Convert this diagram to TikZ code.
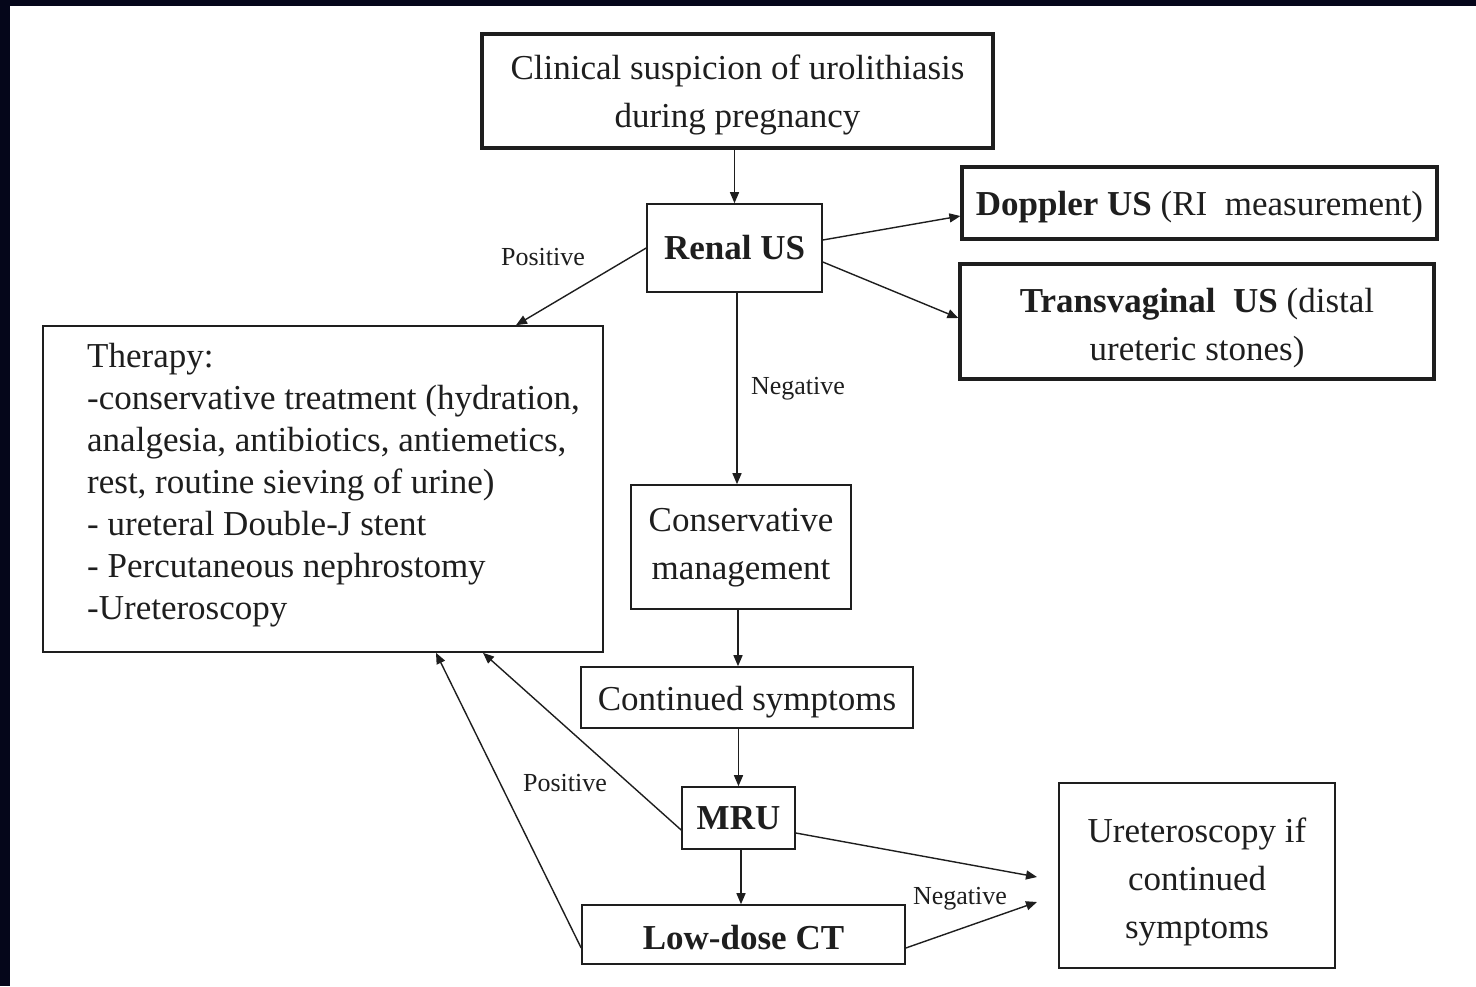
\documentclass[tikz,border=0pt]{standalone}
\usepackage{fontspec}
\setmainfont{Liberation Serif}
\usetikzlibrary{arrows.meta}
\definecolor{frame}{HTML}{05061A}
\definecolor{ink}{HTML}{1E1E1E}
\newcommand\lowr[2]{\raisebox{-#1}[\height][\depth]{#2}}
\begin{document}
\begin{tikzpicture}[x=1pt,y=-1pt,
  box/.style={draw=ink, line width=1.6pt, inner sep=0pt, align=center, text=ink, font=\fontsize{35}{48}\selectfont},
  thickbox/.style={box, line width=3.2pt},
  bfbox/.style={box, font=\fontsize{35}{48}\selectfont\bfseries},
  lbl/.style={text=ink, inner sep=0pt, font=\fontsize{26}{30}\selectfont},
  arr/.style={draw=ink, line width=1.4pt, -{Triangle[length=11pt,width=9pt]}},
]
\useasboundingbox (0,0) rectangle (1476,986);
\fill[frame] (0,0) rectangle (1476,986);
\fill[white] (10,6) rectangle (1476,986);

\node[thickbox, minimum width=511pt, minimum height=114pt] (top) at (737.5,91) {\lowr{4pt}{Clinical suspicion of urolithiasis}\\\lowr{4pt}{during pregnancy}};
\node[bfbox, minimum width=175pt, minimum height=88pt] (renal) at (734.5,248) {Renal US};
\node[thickbox, minimum width=475pt, minimum height=72pt] (doppler) at (1199.5,203) {\lowr{4pt}{\textbf{Doppler US} (RI\ \ measurement)}};
\node[thickbox, minimum width=474pt, minimum height=115pt] (trans) at (1197,321.5) {\lowr{7pt}{\textbf{Transvaginal\ \ US} (distal}\\\lowr{7pt}{ureteric stones)}};
\node[box, minimum width=560pt, minimum height=326pt] (therapy) at (323,489) {};
\node[anchor=north west, align=left, text=ink, inner sep=0pt, font=\fontsize{35}{42}\selectfont] (thertext) at (87,343) {Therapy:\\-conservative treatment (hydration,\\analgesia, antibiotics, antiemetics,\\rest, routine sieving of urine)\\- ureteral Double-J stent\\- Percutaneous nephrostomy\\-Ureteroscopy};
\node[box, minimum width=220pt, minimum height=124pt] (cons) at (741,547) {\lowr{1pt}{Conservative}\\\lowr{1pt}{management}};
\node[box, minimum width=332pt, minimum height=61pt] (cont) at (747,697.5) {\lowr{5pt}{Continued symptoms}};
\node[bfbox, minimum width=113pt, minimum height=62pt] (mru) at (738.5,818) {MRU};
\node[bfbox, minimum width=323pt, minimum height=59pt] (low) at (743.5,934.5) {\lowr{3pt}{Low-dose CT}};
\node[box, minimum width=276pt, minimum height=185pt] (uret) at (1197,875.5) {\lowr{6pt}{Ureteroscopy if}\\\lowr{6pt}{continued}\\\lowr{6pt}{symptoms}};

\coordinate (e1) at (1037,877);
\coordinate (e2) at (1037,902);

\node[lbl] (pos1) at (543,257) {Positive};
\node[lbl] (neg1) at (798,389) {Negative};
\node[lbl] (pos2) at (565,783) {Positive};
\node[lbl] (neg2) at (960,899) {Negative};

\draw[arr] (renal.north |- top.south) -- (renal.north);
\draw[arr] ([yshift=8pt]renal.east) -- ([yshift=-13pt]doppler.west);
\draw[arr] ([yshift=-14pt]renal.east) -- ([yshift=3.5pt]trans.west);
\draw[arr] (renal.west) -- ([xshift=193pt]therapy.north);
\draw[arr] ([xshift=2.5pt]renal.south) -- ([xshift=2.5pt]renal.south |- cons.north);
\draw[arr] ([xshift=-3pt]cons.south) -- ([xshift=-3pt]cons.south |- cont.north);
\draw[arr] (mru.north |- cont.south) -- (mru.north);
\draw[arr] ([yshift=-12pt]mru.west) -- ([xshift=160pt]therapy.south);
\draw[arr] ([xshift=2.5pt]mru.south) -- ([xshift=2.5pt]mru.south |- low.north);
\draw[arr] ([yshift=-13.5pt]low.west) -- ([xshift=113pt]therapy.south);
\draw[arr] ([yshift=-15pt]mru.east) -- (e1);
\draw[arr] ([yshift=-13.5pt]low.east) -- (e2);
\end{tikzpicture}
\end{document}
